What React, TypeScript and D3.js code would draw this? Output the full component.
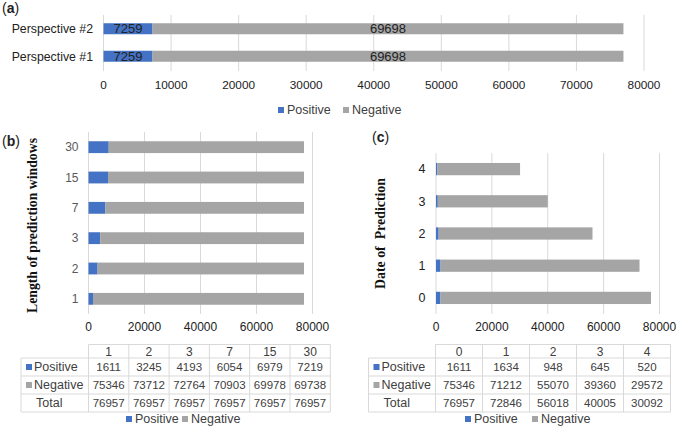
import React from "react";
import * as d3 from "d3";

const BLUE = "#4472C4";
const GRAY = "#A5A5A5";
const GRID = "#D9D9D9";
const TXT = "#404040";
const FONT = "'Liberation Sans', Arial, sans-serif";
const SERIF = "'Liberation Serif', 'Times New Roman', serif";

// Panel (a)
const aCategories = ["Perspective #2", "Perspective #1"];
const aPositive = [7259, 7259];
const aNegative = [69698, 69698];
const aTicks = [0, 10000, 20000, 30000, 40000, 50000, 60000, 70000, 80000];

// Panel (b)
const bCategories = ["1", "2", "3", "7", "15", "30"];
const bPositive = [1611, 3245, 4193, 6054, 6979, 7219];
const bNegative = [75346, 73712, 72764, 70903, 69978, 69738];
const bTotal = [76957, 76957, 76957, 76957, 76957, 76957];

// Panel (c)
const cCategories = ["0", "1", "2", "3", "4"];
const cPositive = [1611, 1634, 948, 645, 520];
const cNegative = [75346, 71212, 55070, 39360, 29572];
const cTotal = [76957, 72846, 56018, 40005, 30092];

const smallTicks = [0, 20000, 40000, 60000, 80000];

function Bars({ cats, pos, neg, x, y, labels, catColor, catFont, catX }) {
  return (
    <g>
      {cats.map((c, i) => {
        const yy = y(c);
        const h = y.bandwidth();
        return (
          <g key={c}>
            <rect x={x(0)} y={yy} width={x(pos[i]) - x(0)} height={h} fill={BLUE} />
            <rect x={x(pos[i])} y={yy} width={x(pos[i] + neg[i]) - x(pos[i])} height={h} fill={GRAY} />
            {labels && (
              <>
                <text x={(x(0) + x(pos[i])) / 2} y={yy + h / 2} dy="0.35em" textAnchor="middle" fontSize={13} fill="#222">{pos[i]}</text>
                <text x={(x(pos[i]) + x(pos[i] + neg[i])) / 2} y={yy + h / 2} dy="0.35em" textAnchor="middle" fontSize={13} fill="#222">{neg[i]}</text>
              </>
            )}
            <text x={catX} y={yy + h / 2} dy="0.35em" textAnchor="end" fontSize={catFont} fill={catColor}>{c}</text>
          </g>
        );
      })}
    </g>
  );
}

function Grid({ x, ticks, y0, y1, labelY, color, fontSize }) {
  return (
    <g>
      {ticks.map((t) => (
        <g key={t}>
          <line x1={x(t)} x2={x(t)} y1={y0} y2={y1} stroke={GRID} strokeWidth={1} />
          <text x={x(t)} y={labelY} dy="0.35em" textAnchor="middle" fontSize={fontSize} fill={color}>{t}</text>
        </g>
      ))}
    </g>
  );
}

function Legend({ xPos, xNeg, y }) {
  return (
    <g fontSize={12.5} fill={TXT}>
      <rect x={xPos} y={y - 3} width={6} height={6} fill={BLUE} />
      <text x={xPos + 9} y={y} dy="0.35em">Positive</text>
      <rect x={xNeg} y={y - 3} width={6} height={6} fill={GRAY} />
      <text x={xNeg + 9} y={y} dy="0.35em">Negative</text>
    </g>
  );
}

function DataTable({ left, dataLeft, colW, cats, pos, neg, tot }) {
  const top = 344.5;
  const headH = 13.5;
  const rowH = 18;
  const right = dataLeft + colW * cats.length;
  const rowsTop = top + headH;
  const bottom = rowsTop + rowH * 3;
  const rows = [
    { label: "Positive", vals: pos, key: BLUE },
    { label: "Negative", vals: neg, key: GRAY },
    { label: "Total", vals: tot, key: null },
  ];
  const lines = [];
  lines.push(<line key="h0" x1={dataLeft} x2={right} y1={top} y2={top} />);
  for (let r = 0; r <= 3; r++) {
    const yy = rowsTop + r * rowH;
    lines.push(<line key={"h" + (r + 1)} x1={left} x2={right} y1={yy} y2={yy} />);
  }
  lines.push(<line key="vl" x1={left} x2={left} y1={rowsTop} y2={bottom} />);
  for (let c = 0; c <= cats.length; c++) {
    const xx = dataLeft + c * colW;
    lines.push(<line key={"v" + c} x1={xx} x2={xx} y1={top} y2={bottom} />);
  }
  return (
    <g fill={TXT}>
      <g stroke={GRID} strokeWidth={1}>{lines}</g>
      {cats.map((c, i) => (
        <text key={"hd" + c} x={dataLeft + colW * (i + 0.5)} y={top + headH / 2 + 0.5} dy="0.35em" textAnchor="middle" fontSize={12}>{c}</text>
      ))}
      {rows.map((r, ri) => {
        const cy = rowsTop + rowH * (ri + 0.5);
        return (
          <g key={r.label}>
            {r.key ? (
              <>
                <rect x={left + 5} y={cy - 3} width={6} height={6} fill={r.key} />
                <text x={left + 13} y={cy} dy="0.35em" fontSize={12.5}>{r.label}</text>
              </>
            ) : (
              <text x={left + 15} y={cy} dy="0.35em" fontSize={12.5}>{r.label}</text>
            )}
            {r.vals.map((v, i) => (
              <text key={i} x={dataLeft + colW * (i + 0.5)} y={cy} dy="0.35em" textAnchor="middle" fontSize={11.5}>{v}</text>
            ))}
          </g>
        );
      })}
    </g>
  );
}

export default function App() {
  const ax = d3.scaleLinear().domain([0, 80000]).range([103.5, 644]);
  const ay = d3.scaleBand().domain(aCategories).range([15, 70]).paddingInner(0.6).paddingOuter(0.3);

  const bx = d3.scaleLinear().domain([0, 80000]).range([88.5, 312.5]);
  const by = d3.scaleBand().domain([...bCategories].reverse()).range([132, 314]).paddingInner(0.61).paddingOuter(0.305);

  const cx = d3.scaleLinear().domain([0, 80000]).range([436, 659.5]);
  const cy = d3.scaleBand().domain([...cCategories].reverse()).range([153, 314]).paddingInner(0.62).paddingOuter(0.31);

  return (
    <svg width={680} height={428} style={{ position: "absolute", left: 0, top: 0, background: "#fff" }} fontFamily={FONT}>
      <rect width={680} height={428} fill="#fff" />
      {/* (a) */}
      <text x={2} y={8} dy="0.35em" fontSize={14} fill="#222">(<tspan fontWeight="bold">a</tspan>)</text>
      <Grid x={ax} ticks={aTicks} y0={15} y1={71} labelY={84.5} color="#222" fontSize={11.8} />
      <Bars cats={aCategories} pos={aPositive} neg={aNegative} x={ax} y={ay} labels={true} catColor="#222" catFont={12.3} catX={93} />
      <Legend xPos={278} xNeg={343} y={110} />

      {/* (b) */}
      <text x={2} y={141} dy="0.35em" fontSize={14} fill="#222">(<tspan fontWeight="bold">b</tspan>)</text>
      <Grid x={bx} ticks={smallTicks} y0={132} y1={314} labelY={327} color="#222" fontSize={12} />
      <Bars cats={bCategories} pos={bPositive} neg={bNegative} x={bx} y={by} labels={false} catColor="#595959" catFont={12} catX={78.5} />
      <text transform="translate(37,225.5) rotate(-90)" textAnchor="middle" fontFamily={SERIF} fontWeight="bold" fontSize={15.5} fill="#111" textLength={175} lengthAdjust="spacingAndGlyphs">Length of prediction windows</text>
      <DataTable left={21} dataLeft={88.5} colW={40.3} cats={bCategories} pos={bPositive} neg={bNegative} tot={bTotal} />
      <Legend xPos={126} xNeg={182} y={419} />

      {/* (c) */}
      <text x={372} y={137} dy="0.35em" fontSize={14} fill="#222">(<tspan fontWeight="bold">c</tspan>)</text>
      <Grid x={cx} ticks={smallTicks} y0={153} y1={314} labelY={327} color="#222" fontSize={12} />
      <Bars cats={cCategories} pos={cPositive} neg={cNegative} x={cx} y={cy} labels={false} catColor="#222" catFont={12.5} catX={425.5} />
      <text transform="translate(385,233.5) rotate(-90)" textAnchor="middle" fontFamily={SERIF} fontWeight="bold" fontSize={15} fill="#111" style={{ whiteSpace: "pre" }} textLength={111} lengthAdjust="spacingAndGlyphs">Date of  Prediction</text>
      <DataTable left={368.5} dataLeft={435.5} colW={47} cats={cCategories} pos={cPositive} neg={cNegative} tot={cTotal} />
      <Legend xPos={465} xNeg={532} y={419} />
    </svg>
  );
}
